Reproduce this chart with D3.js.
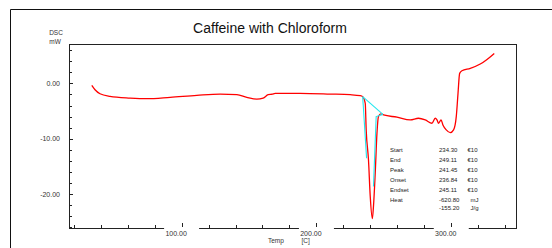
<!DOCTYPE html>
<html>
<head>
<meta charset="utf-8">
<script src="https://cdn.jsdelivr.net/npm/d3@7"></script>
<style>
  html, body { margin: 0; padding: 0; background: #fff; }
  text { font-family: "Liberation Sans", Arial, sans-serif; }
</style>
</head>
<body>
<div id="chart"></div>
<script>
// DSC trace
var temps = [33.4, 35.8, 39.5, 46.9, 61.8, 74.2, 91.5, 111.3, 128.6, 141, 148.4, 155.8, 160.5, 164.2, 167.2, 169.4,
  188, 210.2, 225, 232.5, 234.3, 236.2, 236.9, 238.6, 239.9, 241.45, 242.3, 243.6, 244.9, 246.0, 247.8, 249.8,
  259.7, 269.6, 275.7, 280.7, 285.7, 288.1, 289.4, 290.6, 292.4, 293.8, 296.3, 299.3, 301.7, 303.7, 305.0, 306.2,
  307.9, 314.1, 321.5, 326.5, 331.9];
var dsc = [-0.36, -1.15, -1.87, -2.34, -2.65, -2.77, -2.52, -2.16, -1.93, -2.05, -2.52, -2.83, -2.65, -2.05, -1.96, -1.8,
  -1.8, -1.93, -2.05, -2.23, -2.4, -3.6, -8.4, -13.8, -20.4, -24.4, -22.2, -16.2, -8.95, -6.0, -5.5, -5.7,
  -6.1, -6.6, -6.3, -6.6, -7.2, -6.3, -6.6, -7.2, -6.6, -7.5, -8.4, -8.9, -8.4, -6.0, -1.8, 1.8,
  2.27, 2.7, 3.48, 4.32, 5.4];

// peak analysis lines (cyan)
var baseLine = [[234.3, -2.4], [249.3, -5.6]];
var onsetLine = [[234.3, -2.4], [237.2, -13.5]];
var endsetLine = [[242.3, -18.6], [244.3, -6.0], [249.3, -5.6]];

var xMajor = [100, 200, 300];
var yMajor = [0, -10, -20];

var rowLabels = ["Start", "End", "Peak", "Onset", "Endset", "Heat", ""];
var rowValues = ["234.30", "249.11", "241.45", "236.84", "245.11", "-620.80", "-155.20"];
var rowUnits = ["€10", "€10", "€10", "€10", "€10", "mJ", "J/g"];

var W = 552, H = 248;
var margin = {top: 44, right: 36, bottom: 20, left: 69};

var x = d3.scaleLinear().domain([16.5, 348]).range([margin.left, W - margin.right]);
var y = d3.scaleLinear().domain([7.1, -26.1]).range([margin.top, H - margin.bottom]);

var svg = d3.select("#chart").append("svg")
    .attr("width", W)
    .attr("height", H);

// outer frame
svg.append("path")
    .attr("d", "M10.5," + H + "V9.5H" + W)
    .attr("fill", "none")
    .attr("stroke", "#111")
    .attr("stroke-width", 1);

svg.append("text")
    .attr("x", 270).attr("y", 33)
    .attr("text-anchor", "middle")
    .attr("font-size", "14px")
    .attr("fill", "#111")
    .text("Caffeine with Chloroform");

svg.append("text").attr("x", 56).attr("y", 34.5)
    .attr("text-anchor", "middle").attr("font-size", "6.5px").attr("fill", "#333").text("DSC");
svg.append("text").attr("x", 55).attr("y", 44)
    .attr("text-anchor", "middle").attr("font-size", "6.5px").attr("fill", "#333").text("mW");

// plot frame
svg.append("rect")
    .attr("x", x.range()[0] + 0.5)
    .attr("y", y.range()[0] + 0.5)
    .attr("width", x.range()[1] - x.range()[0])
    .attr("height", y.range()[1] - y.range()[0])
    .attr("fill", "none")
    .attr("stroke", "#222")
    .attr("stroke-width", 1);

// y ticks (inward)
var yTicks = d3.range(6, -27, -2);
svg.selectAll(".ytick")
    .data(yTicks)
  .enter().append("line")
    .attr("x1", x.range()[0])
    .attr("x2", function(d) { return x.range()[0] + (d % 10 === 0 ? 4 : 3); })
    .attr("y1", function(d) { return Math.round(y(d)) + 0.5; })
    .attr("y2", function(d) { return Math.round(y(d)) + 0.5; })
    .attr("stroke", "#222");

svg.selectAll(".ylab")
    .data(yMajor)
  .enter().append("text")
    .attr("x", 60)
    .attr("y", function(d) { return y(d) + 2.5; })
    .attr("text-anchor", "end")
    .attr("font-size", "7px")
    .attr("fill", "#333")
    .text(function(d) { return d.toFixed(2); });

// x ticks (inward)
var xTicks = d3.range(20, 341, 20);
svg.selectAll(".xtick")
    .data(xTicks)
  .enter().append("line")
    .attr("x1", function(d) { return Math.round(x(d)) + 0.5; })
    .attr("x2", function(d) { return Math.round(x(d)) + 0.5; })
    .attr("y1", y.range()[1])
    .attr("y2", function(d) { return y.range()[1] - (d % 100 === 0 ? 5 : 3); })
    .attr("stroke", "#222");

// label boxes break the bottom axis line
svg.selectAll(".xbox")
    .data(xMajor)
  .enter().append("rect")
    .attr("x", function(d) { return x(d) - 17.5; })
    .attr("y", y.range()[1] - 1)
    .attr("width", 35)
    .attr("height", 10)
    .attr("fill", "#fff");

svg.selectAll(".xlab")
    .data(xMajor)
  .enter().append("text")
    .attr("x", function(d) { return x(d) - 5.5; })
    .attr("y", 236)
    .attr("text-anchor", "middle")
    .attr("font-size", "7px")
    .attr("fill", "#333")
    .text(function(d) { return d.toFixed(2); });

svg.append("text").attr("x", 268).attr("y", 242.5)
    .attr("font-size", "6.5px").attr("fill", "#333").text("Temp");
svg.append("text").attr("x", 301.5).attr("y", 242.5)
    .attr("font-size", "6.5px").attr("fill", "#333").text("[C]");

// curve
var line = d3.line()
    .x(function(d) { return x(d[0]); })
    .y(function(d) { return y(d[1]); })
    .curve(d3.curveMonotoneX);

svg.append("path")
    .datum(d3.zip(temps, dsc))
    .attr("d", line)
    .attr("fill", "none")
    .attr("stroke", "#ff0000")
    .attr("stroke-width", 1.3);

var straight = d3.line()
    .x(function(d) { return x(d[0]); })
    .y(function(d) { return y(d[1]); });

[baseLine, onsetLine, endsetLine].forEach(function(seg) {
  svg.append("path")
      .attr("d", straight(seg))
      .attr("fill", "none")
      .attr("stroke", "#22e6ee")
      .attr("stroke-width", 1.1);
});

// peak table
function rowY(i) { return i < 6 ? 151.5 + i * 10.1 : 210; }

svg.selectAll(".rlab")
    .data(rowLabels)
  .enter().append("text")
    .attr("x", 390)
    .attr("y", function(d, i) { return rowY(i); })
    .attr("font-size", "6px")
    .attr("fill", "#222")
    .text(function(d) { return d; });

svg.selectAll(".rval")
    .data(rowValues)
  .enter().append("text")
    .attr("x", 439)
    .attr("y", function(d, i) { return rowY(i); })
    .attr("font-size", "6px")
    .attr("fill", "#222")
    .text(function(d) { return d; });

svg.selectAll(".runit")
    .data(rowUnits)
  .enter().append("text")
    .attr("x", function(d, i) { return i < 5 ? 467.5 : 470.5; })
    .attr("y", function(d, i) { return rowY(i); })
    .attr("font-size", "6px")
    .attr("fill", "#222")
    .text(function(d) { return d; });
</script>
</body>
</html>
